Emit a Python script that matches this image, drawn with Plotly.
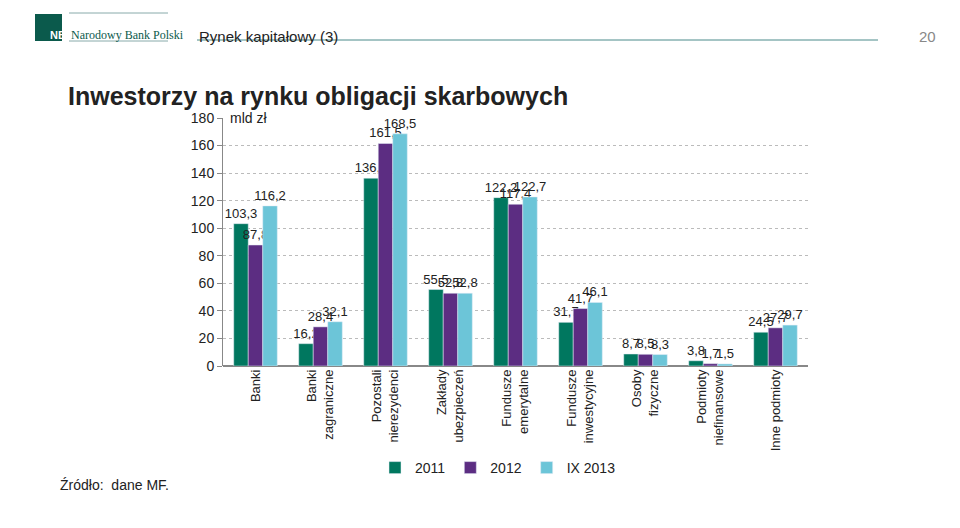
import plotly.graph_objects as go

categories = ["Banki", "Banki<br>zagraniczne", "Pozostali<br>nierezydenci", "Zakłady<br>ubezpieczeń",
              "Fundusze<br>emerytalne", "Fundusze<br>inwestycyjne", "Osoby<br>fizyczne",
              "Podmioty<br>niefinansowe", "Inne podmioty"]
v2011 = [103.3, 16.2, 136.3, 55.5, 122.2, 31.7, 8.7, 3.8, 24.5]
v2012 = [87.8, 28.4, 161.5, 52.8, 117.4, 41.7, 8.5, 1.7, 27.7]
v2013 = [116.2, 32.1, 168.5, 52.8, 122.7, 46.1, 8.3, 1.5, 29.7]
series = [("2011", v2011, "#00775F"), ("2012", v2012, "#5C2D82"), ("IX 2013", v2013, "#6CC5D8")]

L, R, T, B = 215, 160, 110, 170
W, H = 960, 528
PW, PH = W - L - R, H - T - B


def px(x):
    return (x - L) / PW


def py(y):
    return (H - B - y) / PH


fig = go.Figure()
for name, vals, color in series:
    fig.add_trace(go.Bar(
        x=categories, y=vals, name=name, marker_color=color,
        text=[f"{v:.1f}".replace(".", ",") for v in vals],
        textposition="outside", cliponaxis=False,
        textfont=dict(size=13, color="#222"),
    ))

fig.update_layout(
    width=W, height=H, barmode="group", bargap=0.33, bargroupgap=0,
    plot_bgcolor="white", paper_bgcolor="white",
    font=dict(family="Liberation Sans, Arial", size=13, color="#222"),
    margin=dict(l=L, r=R, t=T, b=B, autoexpand=False),
    legend=dict(orientation="h", x=px(490), y=py(460), xanchor="center", yanchor="middle",
                font=dict(size=14), bgcolor="rgba(0,0,0,0)"),
    uniformtext=dict(mode="show", minsize=13),
)
fig.update_xaxes(tickangle=-90, showline=False, tickfont=dict(size=13))
fig.update_yaxes(range=[0, 180], dtick=20, showgrid=True, gridcolor="#bbb", griddash="dot",
                 showline=True, linecolor="#888", ticks="outside", ticklen=5, tickcolor="#888",
                 zeroline=True, zerolinecolor="#888", tickfont=dict(size=14))

# header
fig.add_shape(type="rect", xref="paper", yref="paper", x0=px(27), x1=px(54), y0=py(33), y1=py(6),
              fillcolor="#0B5A4C", line_width=0)
fig.add_annotation(xref="paper", yref="paper", x=px(40), y=py(19), text="<b>NBP</b>", showarrow=False,
                   font=dict(color="white", size=11))
fig.add_annotation(xref="paper", yref="paper", x=px(61), y=py(18), xanchor="left",
                   text="Narodowy Bank Polski", showarrow=False,
                   font=dict(family="Liberation Serif", color="#0B5A4C", size=12))
for yy in (5, 33):
    fig.add_shape(type="line", xref="paper", yref="paper", x0=px(61), x1=px(160), y0=py(yy), y1=py(yy),
                  line=dict(color="#8aa", width=1))
fig.add_annotation(xref="paper", yref="paper", x=px(189), y=py(18), xanchor="left",
                   text="Rynek kapitałowy (3)", showarrow=False, font=dict(size=15))
fig.add_shape(type="line", xref="paper", yref="paper", x0=px(189), x1=px(870), y0=py(32), y1=py(32),
              line=dict(color="#4a8a8a", width=1))
fig.add_annotation(xref="paper", yref="paper", x=px(930), y=py(18), xanchor="right",
                   text="20", showarrow=False, font=dict(size=15, color="#888"))
fig.add_annotation(xref="paper", yref="paper", x=px(58), y=py(72), xanchor="left",
                   text="<b>Inwestorzy na rynku obligacji skarbowych</b>", showarrow=False,
                   font=dict(size=25))
fig.add_annotation(xref="paper", yref="paper", x=px(220), y=py(100), xanchor="left",
                   text="mld zł", showarrow=False, font=dict(size=14))
fig.add_annotation(xref="paper", yref="paper", x=px(50), y=py(487), xanchor="left",
                   text="Źródło:  dane MF.", showarrow=False, font=dict(size=14))
fig.add_shape(type="rect", xref="paper", yref="paper", x0=px(0), x1=px(960), y0=py(528), y1=py(521),
              fillcolor="#1B6B5A", line_width=0)

fig.write_html("out.html")
